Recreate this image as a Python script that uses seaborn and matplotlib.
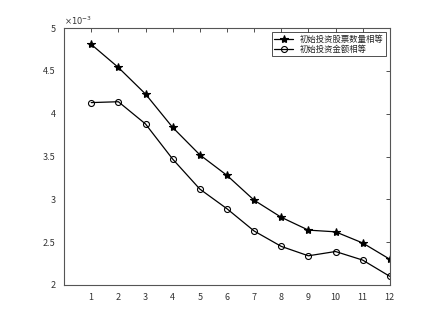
import matplotlib
matplotlib.use("Agg")
import matplotlib.pyplot as plt
import matplotlib.ticker as mticker
import seaborn as sns
import pandas as pd

x_vals = [1, 2, 3, 4, 5, 6, 7, 8, 9, 10, 11, 12]
equal_shares = [4.81, 4.54, 4.23, 3.84, 3.52, 3.28, 2.99, 2.79, 2.64, 2.62, 2.49, 2.30]
equal_amount = [4.13, 4.14, 3.88, 3.47, 3.12, 2.89, 2.63, 2.45, 2.34, 2.39, 2.29, 2.10]
labels = ["初始投资股票数量相等", "初始投资金额相等"]
y_ticks = [2, 2.5, 3, 3.5, 4, 4.5, 5]

sns.set_style("white")
plt.rcParams['font.family'] = ['Noto Sans CJK SC', 'DejaVu Sans']
plt.rcParams['axes.unicode_minus'] = False

df = pd.DataFrame({
    "x": x_vals * 2,
    "y": [v * 1e-3 for v in equal_shares + equal_amount],
    "series": [labels[0]] * 12 + [labels[1]] * 12,
})

fig = plt.figure(figsize=(4.36, 3.09), dpi=100)
ax = fig.add_axes([0.147, 0.078, 0.747, 0.831])

sns.lineplot(data=df, x="x", y="y", hue="series", style="series",
             palette=["black", "black"], markers=["*", "o"], dashes=False,
             linewidth=0.9, markersize=4.3, markerfacecolor="none",
             markeredgecolor="black", markeredgewidth=0.8, ax=ax)
ax.lines[0].set_markerfacecolor("black")
ax.lines[0].set_markersize(6)

ax.set_xlim(0, 12)
ax.set_ylim(2e-3, 5e-3)
ax.set_xticks(x_vals)
ax.set_yticks([t * 1e-3 for t in y_ticks])
ax.yaxis.set_major_formatter(mticker.FuncFormatter(lambda v, p: f"{v * 1e3:g}"))
ax.text(0.0, 1.004, r"$\times10^{-3}$", transform=ax.transAxes, fontsize=6,
        color="#333333", ha="left", va="bottom", family="DejaVu Sans")
ax.set_xlabel("")
ax.set_ylabel("")
ax.tick_params(direction="in", length=3, width=0.6, labelsize=6.5,
               colors="#333333", top=True, right=True, pad=6)
for s in ax.spines.values():
    s.set_color("#555555")
    s.set_linewidth(0.8)

handles, lbls = ax.get_legend_handles_labels()
for h in handles:
    h.set_color("black")
    h.set_markeredgecolor("black")
handles[0].set_markerfacecolor("black")
handles[0].set_markersize(6)
handles[1].set_markerfacecolor("none")
handles[1].set_markersize(4.3)
leg = ax.legend(handles, lbls, loc="upper right", fontsize=6, frameon=True,
                fancybox=False, edgecolor="black", borderpad=0.3,
                handlelength=2.2, labelspacing=0.1, borderaxespad=0.5)
leg.get_frame().set_linewidth(0.6)

fig.savefig("out.png", dpi=100, facecolor="white")
